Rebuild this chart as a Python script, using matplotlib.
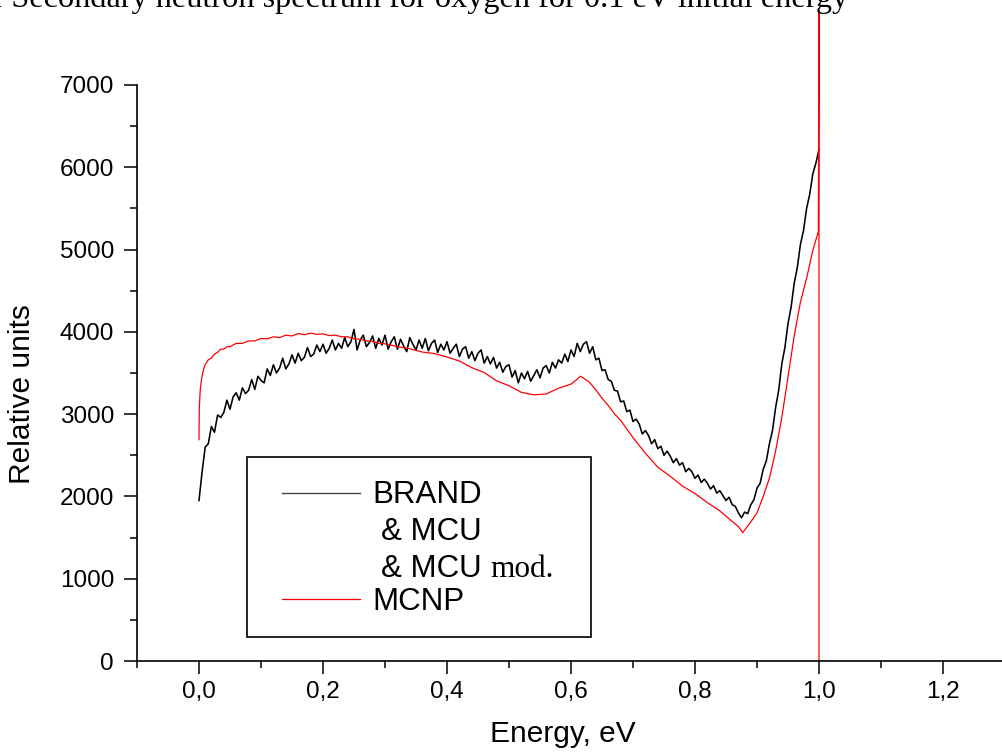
import numpy as np
import matplotlib
matplotlib.use("Agg")
import matplotlib.pyplot as plt
from matplotlib.ticker import MultipleLocator, FuncFormatter
from matplotlib.patches import Rectangle
from matplotlib.lines import Line2D

# BRAND & MCU spectrum, energy bins of 0.005 eV from 0 to 1 eV
brand_e = np.linspace(0.0, 1.0, 201)
brand_y = [
    1950, 2300, 2600, 2640, 2850, 2780, 2990, 2960, 3020, 3170,
    3060, 3210, 3260, 3170, 3320, 3250, 3290, 3420, 3300, 3460,
    3410, 3380, 3550, 3470, 3600, 3500, 3560, 3680, 3550, 3610,
    3720, 3620, 3740, 3650, 3690, 3810, 3700, 3730, 3840, 3760,
    3850, 3740, 3800, 3900, 3780, 3860, 3800, 3930, 3820, 3880,
    4030, 3780, 3900, 3960, 3820, 3870, 3950, 3800, 3920, 3840,
    3960, 3790, 3880, 3940, 3790, 3910, 3830, 3760, 3930, 3850,
    3780, 3900, 3800, 3920, 3770, 3860, 3900, 3750, 3850, 3780,
    3880, 3740, 3800, 3850, 3700, 3790, 3820, 3680, 3760, 3650,
    3740, 3780, 3620, 3700, 3610, 3690, 3560, 3630, 3510, 3580,
    3600, 3450, 3530, 3380, 3500, 3430, 3520, 3400, 3470, 3540,
    3440, 3560, 3590, 3500, 3630, 3560, 3660, 3620, 3730, 3640,
    3780, 3700, 3860, 3760, 3850, 3880, 3740, 3820, 3660, 3680,
    3530, 3540, 3420, 3400, 3290, 3280, 3150, 3160, 3030, 3050,
    2910, 2940, 2880, 2760, 2800, 2740, 2640, 2690, 2580, 2610,
    2500, 2550, 2490, 2410, 2460, 2380, 2410, 2300, 2340, 2300,
    2220, 2260, 2170, 2210, 2160, 2090, 2130, 2040, 2070, 2010,
    1950, 1990, 1900, 1880, 1800, 1740, 1810, 1790, 1900, 1960,
    2100, 2160, 2330, 2430, 2640, 2800, 3080, 3290, 3610, 3810,
    4100, 4300, 4590, 4780, 5060, 5230, 5500, 5670, 5920, 6050,
    6220,
]

# MCNP spectrum
mcnp_e = [
    0.0, 0.0005, 0.002, 0.004, 0.006, 0.008, 0.010, 0.015, 0.020, 0.025,
    0.030, 0.035, 0.040, 0.045, 0.050, 0.06, 0.07, 0.08, 0.09, 0.10,
    0.11, 0.12, 0.13, 0.14, 0.15, 0.16, 0.17, 0.18, 0.19, 0.20,
    0.21, 0.22, 0.23, 0.24, 0.25, 0.26, 0.27, 0.28, 0.29, 0.30,
    0.32, 0.34, 0.36, 0.38, 0.40, 0.42, 0.44, 0.46, 0.48, 0.50,
    0.52, 0.54, 0.56, 0.58, 0.60, 0.61, 0.615, 0.62, 0.63, 0.64,
    0.65, 0.66, 0.67, 0.68, 0.70, 0.72, 0.74, 0.76, 0.78, 0.80,
    0.82, 0.84, 0.86, 0.87, 0.877, 0.89, 0.90, 0.91, 0.92, 0.93,
    0.94, 0.95, 0.96, 0.97, 0.98, 0.99, 0.999, 1.0, 1.0,
]
mcnp_y = [
    2690, 3070, 3300, 3420, 3500, 3560, 3600, 3660, 3680, 3730,
    3750, 3790, 3790, 3820, 3820, 3860, 3860, 3890, 3890, 3920,
    3915, 3940, 3930, 3960, 3950, 3980, 3965, 3985, 3970, 3975,
    3955, 3960, 3940, 3940, 3915, 3910, 3890, 3885, 3860, 3855,
    3820, 3795, 3755, 3735, 3695, 3645, 3565, 3505, 3405, 3345,
    3265, 3235, 3245, 3315, 3365, 3425, 3460, 3440, 3385, 3295,
    3195, 3105, 3005, 2925, 2715, 2525, 2355, 2245, 2125, 2035,
    1925, 1825, 1695, 1635, 1560, 1690, 1800, 2000, 2220, 2550,
    2960, 3450, 3950, 4360, 4650, 4990, 5220, 7900, 0,
]

ytick_vals = [0, 1000, 2000, 3000, 4000, 5000, 6000, 7000]
xtick_vals = [0.0, 0.2, 0.4, 0.6, 0.8, 1.0, 1.2]

W, H = 1003, 753
fig = plt.figure(figsize=(W / 100, H / 100), dpi=100)
plt.rcParams['font.family'] = ['Liberation Sans', 'DejaVu Sans']


def fx(px):
    return px / W


def fy(py):
    return 1 - py / H


ax = fig.add_axes([fx(137), fy(661), fx(1005) - fx(137), fy(85) - fy(661)])
ax.plot(brand_e, brand_y, color='black', lw=1.15)
ax.plot(mcnp_e, mcnp_y, color='#ff0000', lw=0.9, clip_on=False)

ax.set_xlim(-0.1, 1.3)
ax.set_ylim(0, 7000)
ax.spines['top'].set_visible(False)
ax.spines['right'].set_visible(False)
for s in ('left', 'bottom'):
    ax.spines[s].set_linewidth(1.2)

ax.set_xticks(xtick_vals)
ax.set_yticks(ytick_vals)
ax.xaxis.set_minor_locator(MultipleLocator(0.1))
ax.yaxis.set_minor_locator(MultipleLocator(500))
ax.xaxis.set_major_formatter(FuncFormatter(lambda v, p: f"{v:.1f}".replace('.', ',')))
ax.tick_params(which='major', direction='out', length=9.5, width=1.1, labelsize=17.5)
ax.tick_params(which='minor', direction='out', length=5, width=1.1)
ax.tick_params(axis='y', which='major', pad=7)
ax.tick_params(axis='x', which='major', pad=5)

fig.text(fx(563), fy(742), "Energy, eV", ha='center', va='baseline', fontsize=21.5)
fig.text(fx(22), fy(394), "Relative units", ha='center', va='center', rotation=90, fontsize=21.5)

# title, cut off at the top of the picture
fig.text(fx(848), fy(7), "1 Secondary neutron spectrum for oxygen for 0.1 eV initial energy",
         ha='right', va='baseline', fontsize=23.2, family='Liberation Serif')

# legend box
fig.add_artist(Rectangle((fx(247), fy(637)), fx(591) - fx(247), fy(457) - fy(637),
                         transform=fig.transFigure, fill=False, lw=1.2, ec='black'))
fig.add_artist(Line2D([fx(282), fx(360)], [fy(493), fy(493)], transform=fig.transFigure,
                      color='#444444', lw=1.0))
fig.add_artist(Line2D([fx(282), fx(360)], [fy(599), fy(599)], transform=fig.transFigure,
                      color='#ff0000', lw=0.9))
leg_size = 22.5
fig.text(fx(372), fy(503), "BRAND", fontsize=leg_size, va='baseline')
fig.text(fx(381), fy(540), "& MCU", fontsize=leg_size, va='baseline')
fig.text(fx(381), fy(577), "& MCU", fontsize=leg_size, va='baseline')
fig.text(fx(490), fy(577), "mod.", fontsize=leg_size, va='baseline', family='Liberation Serif')
fig.text(fx(372), fy(610), "MCNP", fontsize=leg_size, va='baseline')

fig.savefig("out.png", dpi=100)
